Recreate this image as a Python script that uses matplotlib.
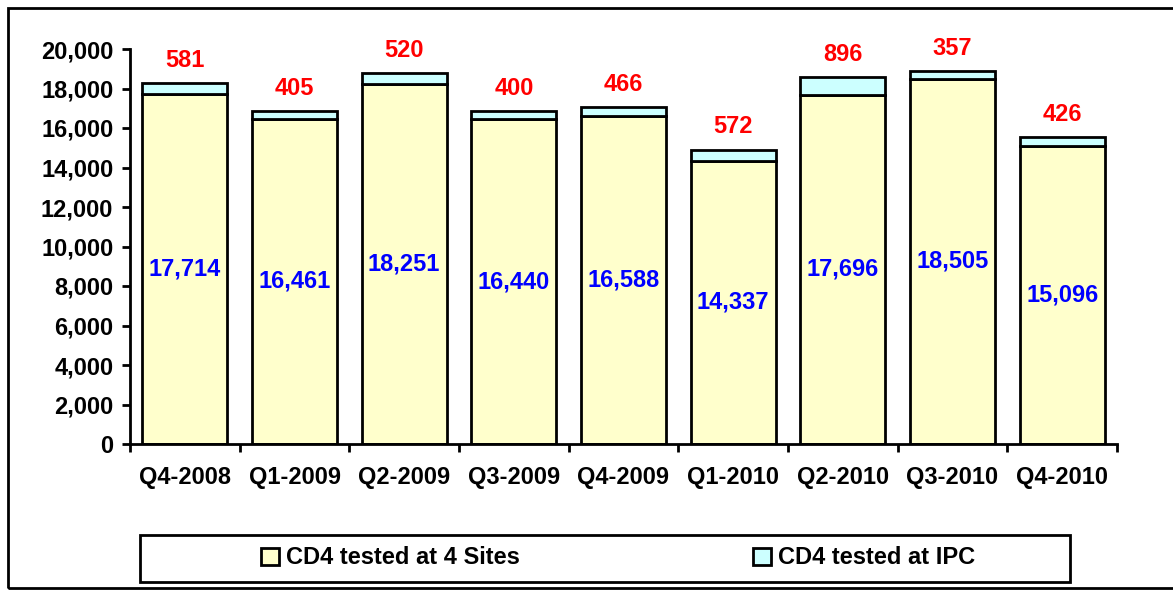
import matplotlib
matplotlib.use("Agg")
import matplotlib.pyplot as plt
import matplotlib.patches as mpatches
import matplotlib.ticker as mticker
import numpy as np

plt.rcParams['font.family'] = ['Liberation Sans', 'DejaVu Sans']
plt.rcParams['font.weight'] = 'bold'

# data
quarters = ['Q4-2008', 'Q1-2009', 'Q2-2009', 'Q3-2009', 'Q4-2009',
            'Q1-2010', 'Q2-2010', 'Q3-2010', 'Q4-2010']
sites = [17714, 16461, 18251, 16440, 16588, 14337, 17696, 18505, 15096]
ipc = [581, 405, 520, 400, 466, 572, 896, 357, 426]

W, H = 1173, 590
FS = 17
fig = plt.figure(figsize=(W / 100, H / 100), dpi=100)
ax = fig.add_axes([130 / W, 1 - 444 / H, (1117 - 130) / W, (444 - 49) / H])

x = np.arange(len(quarters))
bw = 0.775
ax.bar(x, sites, bw, color='#FFFFCC', edgecolor='black', linewidth=2,
       label='CD4 tested at 4 Sites', zorder=2)
ax.bar(x, ipc, bw, bottom=sites, color='#CCFFFF', edgecolor='black', linewidth=2,
       label='CD4 tested at IPC', zorder=2)

# value labels
for xi, s, p in zip(x, sites, ipc):
    ax.text(xi, s / 2, f'{s:,}', ha='center', va='center', color='#0000FF',
            fontsize=FS, fontweight='bold', zorder=3)
    ax.annotate(f'{p}', (xi, s + p), xytext=(0, 8), textcoords='offset points',
                ha='center', va='bottom', color='#FF0000', fontsize=FS,
                fontweight='bold', zorder=3)

ax.set_xlim(-0.5, len(quarters) - 0.5)
ax.set_ylim(0, 20000)
ax.yaxis.set_major_locator(mticker.MultipleLocator(2000))
ax.yaxis.set_major_formatter(mticker.FuncFormatter(lambda v, p: f'{v:,.0f}'))
ax.set_xticks(x)
ax.set_xticklabels(quarters)
ax.set_xticks(np.arange(-0.5, len(quarters)), minor=True)
ax.tick_params(axis='x', which='major', length=0, pad=16, labelsize=FS)
ax.tick_params(axis='x', which='minor', length=6, width=2, direction='out')
ax.tick_params(axis='y', length=6, width=2, direction='out', labelsize=FS, pad=6)
for lab in ax.get_xticklabels() + ax.get_yticklabels():
    lab.set_fontweight('bold')

for side in ['top', 'right']:
    ax.spines[side].set_visible(False)
for side in ['left', 'bottom']:
    ax.spines[side].set_linewidth(2)

# outer chart border (right edge runs off the picture)
fig.patches.append(mpatches.Rectangle((8 / W, 2 / H), 1.05, (588 - 8) / H,
                                      transform=fig.transFigure, fill=False,
                                      edgecolor='black', linewidth=2))
# legend box
fig.patches.append(mpatches.Rectangle((140 / W, 1 - 582 / H), (1070 - 140) / W, 47 / H,
                                      transform=fig.transFigure, fill=False,
                                      edgecolor='black', linewidth=2))

fig.legend(loc='center', bbox_to_anchor=(618 / W, 1 - 558 / H), ncol=2,
           frameon=False, handlelength=0.75, handleheight=0.75,
           handletextpad=0.3, columnspacing=9.9,
           prop={'weight': 'bold', 'size': FS})

fig.savefig('out.png', dpi=100)
